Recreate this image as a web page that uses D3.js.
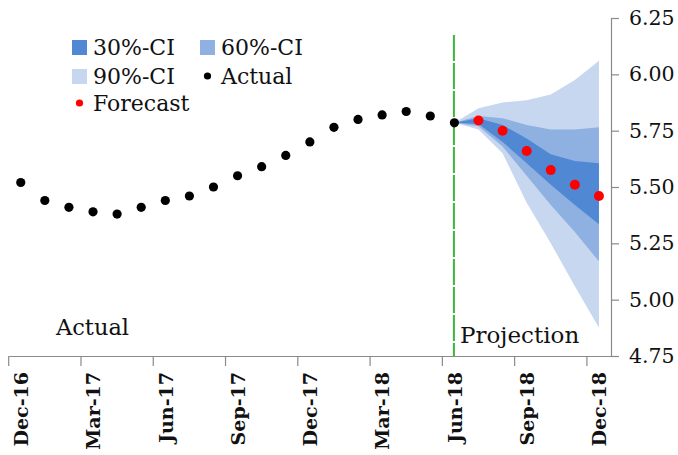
<!DOCTYPE html>
<html>
<head>
<meta charset="utf-8">
<script src="https://cdn.jsdelivr.net/npm/d3@7"></script>
<style>
  body { margin: 0; background: #fff; }
  svg { display: block; }
  text { font-family: "DejaVu Serif", serif; fill: #111; }
</style>
</head>
<body>
<div id="chart"></div>
<script>
// months on the x axis (Dec-16 .. Dec-18)
const months = ['Dec-16','Jan-17','Feb-17','Mar-17','Apr-17','May-17','Jun-17','Jul-17','Aug-17','Sep-17','Oct-17','Nov-17',
  'Dec-17','Jan-18','Feb-18','Mar-18','Apr-18','May-18','Jun-18','Jul-18','Aug-18','Sep-18','Oct-18','Nov-18','Dec-18'];
const tickLabels = ['Dec-16','Mar-17','Jun-17','Sep-17','Dec-17','Mar-18','Jun-18','Sep-18','Dec-18'];

// actual values, Dec-16 .. Jun-18
const actual = [5.52, 5.44, 5.41, 5.39, 5.38, 5.41, 5.44, 5.46, 5.50, 5.55, 5.59, 5.64,
  5.70, 5.765, 5.80, 5.82, 5.835, 5.815, 5.785];

// forecast, Jul-18 .. Dec-18
const forecast = [5.795, 5.75, 5.66, 5.575, 5.51, 5.46];

// fan bounds, Jun-18 .. Dec-18
const fanMonths = ['Jun-18','Jul-18','Aug-18','Sep-18','Oct-18','Nov-18','Dec-18'];
const ci90Upper = [5.785, 5.85, 5.875, 5.885, 5.91, 5.975, 6.06];
const ci60Upper = [5.785, 5.815, 5.805, 5.775, 5.755, 5.755, 5.765];
const ci30Upper = [5.785, 5.805, 5.775, 5.715, 5.645, 5.615, 5.605];
const ci30Lower = [5.785, 5.78, 5.70, 5.605, 5.51, 5.42, 5.335];
const ci60Lower = [5.785, 5.77, 5.68, 5.55, 5.42, 5.30, 5.17];
const ci90Lower = [5.785, 5.755, 5.65, 5.43, 5.25, 5.06, 4.875];

const yTicks = [4.75, 5.00, 5.25, 5.50, 5.75, 6.00, 6.25];
const splitMonth = 'Jun-18';
const splitTop = 6.175;

const W = 678, H = 455;
const plot = { left: 8.7, right: 611, top: 18, bottom: 356 };

const svg = d3.select('#chart').append('svg')
  .attr('width', W)
  .attr('height', H);

const x = d3.scaleBand()
  .domain(months)
  .range([plot.left, plot.right]);

const y = d3.scaleLinear()
  .domain([4.75, 6.25])
  .range([plot.bottom, plot.top]);

const cx = m => x(m) + x.bandwidth() / 2;

// fan bands, widest first
const bands = [
  { lo: ci90Lower, hi: ci90Upper, color: '#c6d7ef' },
  { lo: ci60Lower, hi: ci60Upper, color: '#8eb1e2' },
  { lo: ci30Lower, hi: ci30Upper, color: '#5188d3' }
];

const area = d3.area()
  .x(d => cx(d.m))
  .y0(d => y(d.lo))
  .y1(d => y(d.hi));

svg.append('g')
  .selectAll('path')
  .data(bands)
  .join('path')
  .attr('d', b => area(fanMonths.map((m, i) => ({ m, lo: b.lo[i], hi: b.hi[i] }))))
  .attr('fill', b => b.color);

// split between actual and projection
svg.append('line')
  .attr('x1', cx(splitMonth) - 0.5)
  .attr('x2', cx(splitMonth) - 0.5)
  .attr('y1', y(splitTop))
  .attr('y2', y(4.75))
  .attr('stroke', '#3db53d')
  .attr('stroke-width', 2)
  .attr('stroke-dasharray', '26,2');

// bottom axis
const xAxis = svg.append('g')
  .attr('transform', `translate(0,${plot.bottom})`)
  .call(d3.axisBottom(x)
    .tickValues(tickLabels)
    .tickSize(10)
    .tickSizeOuter(0));

xAxis.select('.domain').attr('stroke', '#8a8a8a').attr('stroke-width', 1.2);
xAxis.selectAll('.tick line')
  .attr('x1', -x.bandwidth() / 2)
  .attr('x2', -x.bandwidth() / 2)
  .attr('stroke', '#8a8a8a')
  .attr('stroke-width', 1.2);
xAxis.selectAll('.tick text')
  .attr('transform', 'rotate(-90)')
  .attr('x', -16)
  .attr('y', 0)
  .attr('dy', '0.38em')
  .attr('text-anchor', 'end')
  .style('font-family', '"DejaVu Serif", serif')
  .style('font-size', '19px')
  .style('font-weight', 'bold')
  .attr('fill', '#111');

// right axis
const yAxis = svg.append('g')
  .attr('transform', `translate(${plot.right},0)`)
  .call(d3.axisRight(y)
    .tickValues(yTicks)
    .tickFormat(d3.format('.2f'))
    .tickSize(8)
    .tickSizeOuter(0)
    .tickPadding(10));

yAxis.select('.domain').attr('stroke', '#8a8a8a').attr('stroke-width', 1.2);
yAxis.selectAll('.tick line').attr('stroke', '#8a8a8a').attr('stroke-width', 1.2);
yAxis.selectAll('.tick text')
  .style('font-family', '"DejaVu Serif", serif')
  .style('font-size', '20.5px')
  .attr('fill', '#111');

// actual dots
svg.append('g')
  .selectAll('circle')
  .data(actual)
  .join('circle')
  .attr('cx', (d, i) => cx(months[i]))
  .attr('cy', d => y(d))
  .attr('r', 4.6)
  .attr('fill', '#000');

// forecast dots
svg.append('g')
  .selectAll('circle')
  .data(forecast)
  .join('circle')
  .attr('cx', (d, i) => cx(months[actual.length + i]))
  .attr('cy', d => y(d))
  .attr('r', 5)
  .attr('fill', '#ff0000');

// region labels
svg.append('text')
  .attr('x', 56)
  .attr('y', 335)
  .style('font-size', '22.5px')
  .text('Actual');

svg.append('text')
  .attr('x', 460)
  .attr('y', 343)
  .style('font-size', '23px')
  .text('Projection');

// legend
const legend = [
  { label: '30%-CI', type: 'rect', color: '#5188d3', x: 72, y: 47 },
  { label: '60%-CI', type: 'rect', color: '#8eb1e2', x: 200, y: 47 },
  { label: '90%-CI', type: 'rect', color: '#c6d7ef', x: 72, y: 76 },
  { label: 'Actual', type: 'dot', color: '#000', x: 200, y: 76 },
  { label: 'Forecast', type: 'dot', color: '#ff0000', x: 72, y: 103 }
];

const lg = svg.append('g')
  .selectAll('g')
  .data(legend)
  .join('g')
  .attr('transform', d => `translate(${d.x},${d.y})`);

lg.filter(d => d.type === 'rect')
  .append('rect')
  .attr('x', 0)
  .attr('y', -7)
  .attr('width', 15)
  .attr('height', 15)
  .attr('fill', d => d.color);

lg.filter(d => d.type === 'dot')
  .append('circle')
  .attr('cx', 7.5)
  .attr('cy', 0)
  .attr('r', 3.6)
  .attr('fill', d => d.color);

lg.append('text')
  .attr('x', 21)
  .attr('y', 0)
  .attr('dy', '0.35em')
  .style('font-size', '22px')
  .text(d => d.label);
</script>
</body>
</html>
